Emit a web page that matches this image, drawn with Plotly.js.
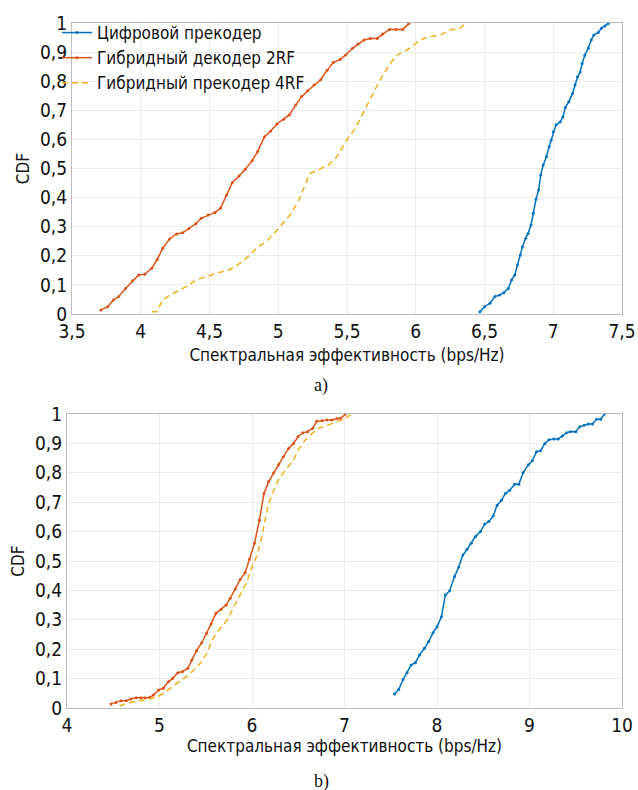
<!DOCTYPE html>
<html>
<head>
<meta charset="utf-8">
<script src="https://cdn.plot.ly/plotly-3.0.1.min.js"></script>
<style>html,body{margin:0;padding:0;background:#fff}#chart{width:638px;height:790px}</style>
</head>
<body>
<div id="chart"></div>
<script>
// ---- data ----
const seriesNames = ['Цифровой прекодер', 'Гибридный декодер 2RF', 'Гибридный прекодер 4RF'];
const xTitle = 'Спектральная эффективность (bps/Hz)';
const yTitle = 'CDF';
const captions = ['a)', 'b)'];

// panel a)
const aDigitalX = [6.467,6.50,6.54,6.576,6.61,6.64,6.673,6.697,6.72,6.74,6.76,6.776,6.80,6.817,6.838,6.855,6.875,6.894,6.909,6.927,6.95,6.97,6.985,7.00,7.02,7.05,7.07,7.088,7.113,7.14,7.158,7.177,7.196,7.21,7.23,7.255,7.276,7.295,7.327,7.35,7.375,7.40];
const aDigitalY = [0.008,0.025,0.037,0.06,0.065,0.073,0.088,0.117,0.134,0.168,0.203,0.231,0.26,0.277,0.306,0.346,0.395,0.426,0.478,0.512,0.54,0.575,0.598,0.626,0.65,0.66,0.677,0.71,0.729,0.758,0.787,0.815,0.832,0.861,0.89,0.913,0.942,0.959,0.967,0.982,0.99,0.998];
const a2RFX = [3.71,3.76,3.80,3.84,3.89,3.94,3.985,4.03,4.08,4.12,4.16,4.21,4.26,4.305,4.35,4.40,4.44,4.49,4.54,4.58,4.625,4.665,4.715,4.76,4.81,4.85,4.90,4.945,4.99,5.04,5.08,5.127,5.17,5.215,5.26,5.31,5.356,5.40,5.45,5.49,5.54,5.58,5.625,5.67,5.72,5.76,5.81,5.856,5.905,5.95];
const a2RFY = [0.014,0.025,0.048,0.06,0.088,0.114,0.134,0.137,0.157,0.188,0.226,0.258,0.275,0.279,0.294,0.31,0.329,0.34,0.349,0.363,0.409,0.451,0.474,0.497,0.527,0.558,0.609,0.629,0.653,0.669,0.684,0.718,0.747,0.767,0.787,0.806,0.838,0.864,0.875,0.89,0.913,0.928,0.942,0.947,0.947,0.962,0.978,0.978,0.978,0.998];
const a4RFX = [4.08,4.115,4.16,4.21,4.27,4.33,4.41,4.48,4.55,4.65,4.72,4.78,4.855,4.915,5.00,5.085,5.145,5.17,5.207,5.23,5.29,5.364,5.425,5.498,5.56,5.62,5.68,5.74,5.80,5.86,5.91,5.97,6.03,6.10,6.18,6.25,6.32,6.36];
const a4RFY = [0.008,0.008,0.048,0.065,0.079,0.094,0.119,0.128,0.14,0.153,0.174,0.197,0.231,0.249,0.294,0.34,0.386,0.415,0.46,0.483,0.495,0.512,0.54,0.598,0.638,0.695,0.747,0.804,0.85,0.89,0.90,0.918,0.942,0.953,0.959,0.976,0.982,0.997];

// panel b)
const bDigitalX = [7.54,7.586,7.633,7.676,7.72,7.766,7.81,7.864,7.91,7.957,8.0,8.048,8.09,8.137,8.19,8.235,8.28,8.325,8.37,8.416,8.47,8.516,8.56,8.607,8.65,8.697,8.74,8.787,8.84,8.885,8.93,8.987,9.03,9.076,9.12,9.166,9.21,9.263,9.31,9.354,9.40,9.44,9.50,9.544,9.59,9.635,9.68,9.725,9.77,9.81];
const bDigitalY = [0.048,0.063,0.097,0.12,0.146,0.154,0.18,0.203,0.226,0.256,0.276,0.31,0.384,0.399,0.447,0.48,0.52,0.54,0.56,0.583,0.60,0.626,0.634,0.653,0.69,0.707,0.73,0.741,0.761,0.761,0.80,0.827,0.841,0.872,0.875,0.90,0.912,0.915,0.915,0.925,0.936,0.94,0.94,0.957,0.962,0.966,0.966,0.982,0.982,1.0];
const b2RFX = [4.476,4.53,4.584,4.64,4.69,4.747,4.80,4.844,4.89,4.934,4.99,5.04,5.096,5.14,5.198,5.25,5.306,5.35,5.40,5.457,5.51,5.558,5.61,5.667,5.72,5.764,5.818,5.87,5.926,5.973,6.027,6.08,6.13,6.18,6.233,6.287,6.34,6.395,6.45,6.497,6.55,6.60,6.655,6.70,6.757,6.81,6.865,6.92,6.96,7.01];
const b2RFY = [0.014,0.019,0.025,0.025,0.031,0.035,0.035,0.035,0.036,0.044,0.061,0.067,0.089,0.10,0.12,0.124,0.135,0.163,0.195,0.222,0.254,0.286,0.322,0.336,0.35,0.373,0.405,0.436,0.46,0.506,0.56,0.639,0.73,0.77,0.80,0.827,0.855,0.883,0.90,0.923,0.936,0.94,0.951,0.975,0.977,0.98,0.98,0.985,0.985,1.0];
const b4RFX = [4.57,4.646,4.72,4.81,4.90,4.97,5.04,5.13,5.24,5.33,5.44,5.51,5.58,5.656,5.73,5.80,5.87,5.945,6.0,6.05,6.107,6.14,6.18,6.215,6.25,6.305,6.378,6.45,6.50,6.576,6.65,6.72,6.775,6.88,6.97,7.03,7.08];
const b4RFY = [0.007,0.016,0.021,0.027,0.033,0.036,0.05,0.07,0.095,0.116,0.152,0.186,0.237,0.271,0.299,0.339,0.384,0.43,0.48,0.515,0.583,0.639,0.696,0.724,0.753,0.787,0.815,0.844,0.878,0.912,0.934,0.951,0.957,0.968,0.98,0.99,1.0];

const aXTicks = [3.5,4,4.5,5,5.5,6,6.5,7,7.5];
const bXTicks = [4,5,6,7,8,9,10];
const yTicks = [0,0.1,0.2,0.3,0.4,0.5,0.6,0.7,0.8,0.9,1];

// ---- styling ----
const colors = ['#0072BD', '#D95319', '#EDB120'];
const FONT = '"DejaVu Sans Condensed", "Liberation Sans Narrow", sans-serif';

function mk(x, y, i, xa, ya, show) {
  return {
    x: x, y: y, xaxis: xa, yaxis: ya, name: seriesNames[i], showlegend: show,
    type: 'scatter', mode: i === 2 ? 'lines' : 'lines+markers',
    line: {color: colors[i], width: 1.5, dash: i === 2 ? '6px,4px' : 'solid'},
    marker: {color: colors[i], size: 3}
  };
}

const data = [
  mk(aDigitalX, aDigitalY, 0, 'x', 'y', true),
  mk(a2RFX, a2RFY, 1, 'x', 'y', true),
  mk(a4RFX, a4RFY, 2, 'x', 'y', true),
  mk(bDigitalX, bDigitalY, 0, 'x2', 'y2', false),
  mk(b2RFX, b2RFY, 1, 'x2', 'y2', false),
  mk(b4RFX, b4RFY, 2, 'x2', 'y2', false)
];

const axBase = {
  showgrid: true, gridcolor: '#ececec', gridwidth: 1,
  showline: true, linecolor: '#bdbdbd', linewidth: 1, mirror: true,
  ticks: '', zeroline: false,
  tickfont: {family: FONT, size: 19, color: '#111'},
  automargin: false
};

function xAx(range, ticks, domain, anchor, standoff) {
  return Object.assign({}, axBase, {
    range: range, tickmode: 'array', tickvals: ticks, domain: domain, anchor: anchor,
    title: {text: xTitle, font: {family: FONT, size: 17, color: '#111'}, standoff: standoff}
  });
}
function yAx(domain, anchor) {
  return Object.assign({}, axBase, {
    range: [0, 1], tickmode: 'array', tickvals: yTicks, domain: domain, anchor: anchor,
    title: {text: yTitle, font: {family: FONT, size: 17, color: '#111'}, standoff: 6}
  });
}

const W = 638, H = 790;
const layout = {
  width: W, height: H,
  margin: {l: 0, r: 0, t: 0, b: 0},
  paper_bgcolor: '#fff', plot_bgcolor: '#fff',
  separators: ', ',
  showlegend: true,
  legend: {
    x: 57 / W, y: 1 - 15 / H, xanchor: 'left', yanchor: 'top',
    bgcolor: 'rgba(0,0,0,0)', borderwidth: 0,
    font: {family: FONT, size: 17, color: '#111'},
    itemwidth: 30, tracegroupgap: 0
  },
  // white backing box behind the legend (inside the plot area, under the data)
  shapes: [
    {type: 'rect', xref: 'x', yref: 'y', x0: 3.505, x1: 5.22, y0: 0.76, y1: 0.997,
     fillcolor: '#ffffff', line: {width: 0}, layer: 'below'}
  ],
  xaxis: xAx([3.5, 7.5], aXTicks, [72 / W, 622 / W], 'y', 8),
  yaxis: yAx([1 - 314 / H, 1 - 23 / H], 'x'),
  xaxis2: xAx([4, 10], bXTicks, [67 / W, 622 / W], 'y2', 3),
  yaxis2: yAx([1 - 708 / H, 1 - 414 / H], 'x2'),
  annotations: [
    {text: captions[0], xref: 'paper', yref: 'paper', x: 321 / W, y: 1 - 386 / H, showarrow: false,
     xanchor: 'center', yanchor: 'middle', font: {family: '"Liberation Serif", serif', size: 18, color: '#111'}},
    {text: captions[1], xref: 'paper', yref: 'paper', x: 321 / W, y: 1 - 781 / H, showarrow: false,
     xanchor: 'center', yanchor: 'middle', font: {family: '"Liberation Serif", serif', size: 18, color: '#111'}}
  ]
};

Plotly.newPlot('chart', data, layout, {staticPlot: true, displayModeBar: false});
</script>
</body>
</html>
